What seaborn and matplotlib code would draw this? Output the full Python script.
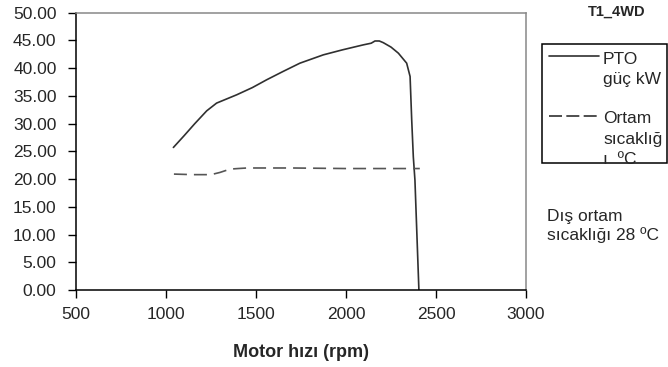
import matplotlib
matplotlib.use('Agg')
import matplotlib.pyplot as plt
import seaborn as sns
import pandas as pd
from matplotlib.lines import Line2D
from matplotlib.patches import Rectangle

# PTO power curve (kW) against engine speed (rpm)
pto_rpm = [1041, 1100, 1160, 1226, 1281, 1393, 1480, 1559, 1650, 1744, 1874, 1980,
           2096, 2140, 2161, 2185, 2207, 2250, 2291, 2337, 2356, 2365, 2374, 2383, 2395, 2405]
pto_kw = [25.7, 27.8, 30.0, 32.3, 33.7, 35.2, 36.5, 37.9, 39.4, 40.9, 42.4, 43.3,
          44.2, 44.5, 44.9, 44.9, 44.6, 43.8, 42.7, 40.9, 38.5, 30.7, 24.0, 19.8, 9.0, 0.0]

# ambient temperature (degC)
amb_rpm = [1044, 1150, 1250, 1300, 1356, 1400, 1450, 1700, 2000, 2200, 2410]
amb_c = [20.9, 20.8, 20.8, 21.2, 21.8, 21.9, 22.0, 22.0, 21.9, 21.9, 21.9]

x_ticks = [500, 1000, 1500, 2000, 2500, 3000]
y_ticks = [0, 5, 10, 15, 20, 25, 30, 35, 40, 45, 50]

pto = pd.DataFrame({'rpm': pto_rpm, 'kw': pto_kw})
amb = pd.DataFrame({'rpm': amb_rpm, 'c': amb_c})

sns.set_style('white')
plt.rcParams['font.family'] = ['Liberation Sans', 'DejaVu Sans']

W, H = 668, 367
fig = plt.figure(figsize=(W / 100, H / 100), dpi=100)
ax = fig.add_axes([76 / W, 1 - 290 / H, 450 / W, 277.3 / H])

sns.lineplot(data=pto, x='rpm', y='kw', ax=ax, color='#303030', linewidth=1.2,
             sort=False, estimator=None)
sns.lineplot(data=amb, x='rpm', y='c', ax=ax, color='#555555', linewidth=1.2,
             sort=False, estimator=None, dashes=False)
ax.lines[1].set_dashes((7.8, 4.2))

ax.set_xlim(500, 3000)
ax.set_ylim(0, 50)
ax.set_xticks(x_ticks)
ax.set_yticks(y_ticks)
ax.set_yticklabels([f'{v:.2f}' for v in y_ticks])
ax.tick_params(axis='both', direction='out', length=5.5, width=1, color='black',
               labelsize=12.5, left=True, bottom=True)
ax.tick_params(axis='x', pad=6.5)
ax.tick_params(axis='y', pad=8.5)
ax.set_xlabel('Motor hızı (rpm)', fontsize=13, fontweight='bold', labelpad=16)
ax.set_ylabel('')

for side in ['left', 'bottom']:
    ax.spines[side].set_color('black')
    ax.spines[side].set_linewidth(1.1)
for side in ['top', 'right']:
    ax.spines[side].set_color('#888888')
    ax.spines[side].set_linewidth(1.1)


def fx(px):
    return px / W


def fy(py):
    return 1 - py / H


# title and note on the right
fig.text(fx(617), fy(12), 'T1_4WD', fontsize=10.5, fontweight='bold', ha='center', va='center')
fig.text(fx(547), fy(226), 'Dış ortam\nsıcaklığı 28 ºC', fontsize=12.5, ha='left', va='center',
         linespacing=1.25)

# legend box drawn by hand to keep handles on the first text line
fig.patches.append(Rectangle((fx(542), fy(163)), fx(667) - fx(542), fy(44) - fy(163),
                             transform=fig.transFigure, fill=False, edgecolor='black',
                             linewidth=1.1))
fig.lines.append(Line2D([fx(549), fx(599)], [fy(55.5), fy(55.5)], transform=fig.transFigure,
                        color='#303030', linewidth=1.2))
dash = Line2D([fx(549), fx(601)], [fy(116), fy(116)], transform=fig.transFigure,
              color='#303030', linewidth=1.2)
dash.set_dashes((7.8, 2.6))
fig.lines.append(dash)
fig.text(fx(603), fy(84), 'PTO\ngüç kW', fontsize=12.5, ha='left', va='baseline',
         linespacing=1.45, transform=fig.transFigure)
fig.text(fx(603), fy(164), 'Ortam\nsıcaklığ\nı  ºC', fontsize=12.5, ha='left', va='baseline',
         linespacing=1.45, transform=fig.transFigure)

fig.savefig('out.png', dpi=100)
